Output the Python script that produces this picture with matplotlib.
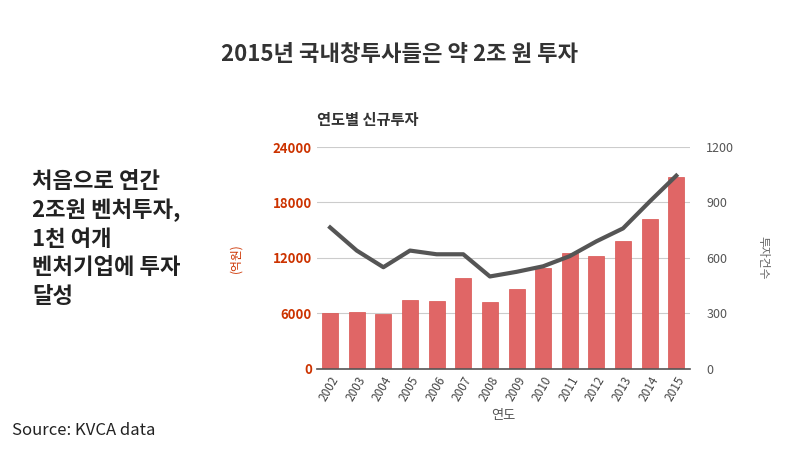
import matplotlib
matplotlib.use("Agg")
import matplotlib.pyplot as plt

plt.rcParams['font.family'] = ['Noto Sans CJK KR', 'DejaVu Sans']

years = [str(y) for y in range(2002, 2016)]
amount = [6100, 6200, 5900, 7500, 7300, 9800, 7200, 8600, 10900, 12500, 12200, 13800, 16200, 20800]
counts = [765, 640, 550, 640, 620, 620, 500, 525, 555, 610, 690, 760, 905, 1045]

fig = plt.figure(figsize=(8, 4.51), dpi=100)
fig.text(0.5, 0.865, "2015년 국내창투사들은 약 2조 원 투자", ha='center', fontsize=16, fontweight='bold', color='#333333')
fig.text(0.04, 0.47, "처음으로 연간\n2조원 벤처투자,\n1천 여개\n벤처기업에 투자\n달성", fontsize=16, fontweight='bold', color='#222222', va='center', linespacing=1.3)
fig.text(0.015, 0.035, "Source: KVCA data", fontsize=12, color='#222222')

ax = fig.add_axes([0.396, 0.182, 0.466, 0.492])
x = range(len(years))
ax.bar(x, amount, width=0.6, color='#e06666', edgecolor='#d9534f', linewidth=0.5, zorder=2)
ax.set_ylim(0, 24000)
ax.set_yticks([0, 6000, 12000, 18000, 24000])
ax.set_xlim(-0.5, len(years) - 0.5)
ax.set_xticks(list(x))
ax.set_xticklabels(years, rotation=60, fontsize=8.5, color='#444444', ha='right', rotation_mode='anchor')
ax.tick_params(axis='y', colors='#cc3300', labelsize=9.5, length=0)
ax.tick_params(axis='x', length=0, pad=4)
for l in ax.get_yticklabels():
    l.set_fontweight('bold')
ax.grid(axis='y', color='#cccccc', linewidth=0.8, zorder=0)
for s in ['top', 'right', 'left']:
    ax.spines[s].set_visible(False)
ax.spines['bottom'].set_color('#555555')
ax.spines['bottom'].set_linewidth(1.2)
ax.set_ylabel("(억원)", color='#cc3300', fontsize=8.5, style='italic', labelpad=22)
ax.set_xlabel("연도", color='#555555', fontsize=9.5)
ax.set_title("연도별 신규투자", loc='left', fontsize=11, fontweight='bold', color='#333333', x=0.0, pad=16)

ax2 = ax.twinx()
ax2.plot(list(x), counts, color='#555555', linewidth=3, zorder=3)
ax2.set_ylim(0, 1200)
ax2.set_yticks([0, 300, 600, 900, 1200])
ax2.tick_params(axis='y', colors='#555555', labelsize=9, length=0, pad=12)
for s in ['top', 'right', 'left', 'bottom']:
    ax2.spines[s].set_visible(False)
ax2.set_ylabel("투자건수", color='#666666', fontsize=8.5, style='italic', rotation=270, labelpad=25)

fig.savefig("out.png", dpi=100)
